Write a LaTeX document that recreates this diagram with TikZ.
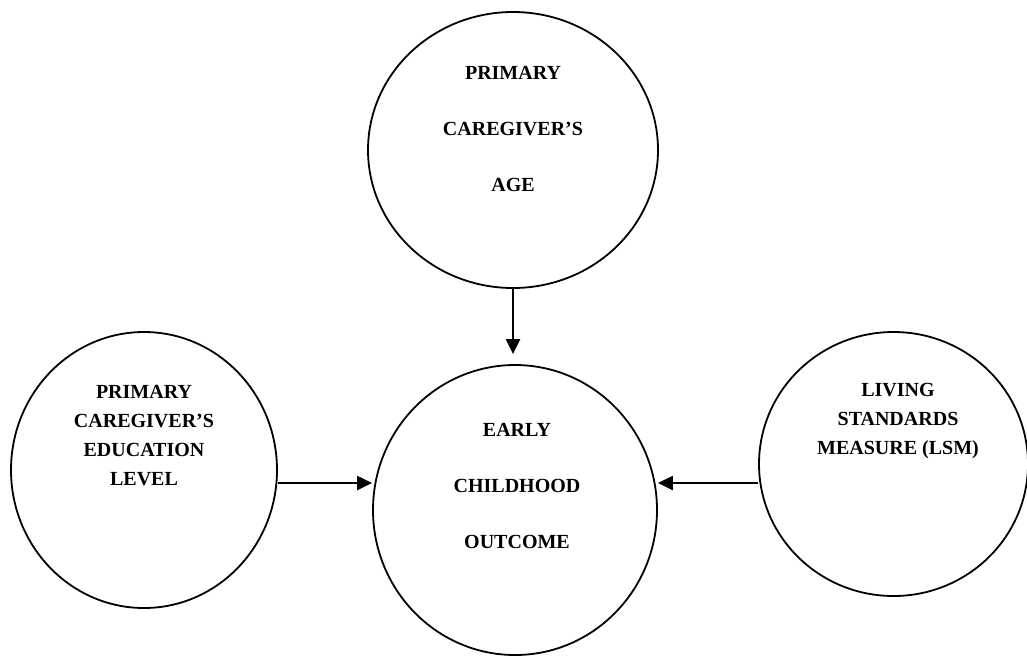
\documentclass[tikz,border=0pt]{standalone}
\usepackage{fontspec}
\setmainfont{Liberation Serif}
\usetikzlibrary{arrows.meta,positioning,calc,shapes.geometric}

\begin{document}
\begin{tikzpicture}[
  x=1pt, y=-1pt, >={Triangle[length=15pt,width=14pt]},
  bubble/.style={draw, ellipse, line width=1.8pt, inner sep=0pt},
  caption/.style={align=center, font=\bfseries\fontsize{20}{29}\selectfont},
  link/.style={->, line width=2.2pt}
]
  \useasboundingbox (0,0) rectangle (1027,657);
  % circles
  \node[bubble, minimum width=290pt, minimum height=276pt] (age) at (513,150) {};
  \node[bubble, minimum width=284pt, minimum height=290pt] (outcome) at (515,510) {};
  \node[bubble, minimum width=266pt, minimum height=276pt] (edu) at (144,470) {};
  \node[bubble, minimum width=269pt, minimum height=264pt] (lsm) at (893.5,464) {};
  % texts
  \node[caption] (agetxt) at (513,129) {PRIMARY\\[27pt]CAREGIVER’S\\[27pt]AGE};
  \node[caption] (outtxt) at (517,486) {EARLY\\[27pt]CHILDHOOD\\[27pt]OUTCOME};
  \node[caption] (edutxt) at (144,436) {PRIMARY\\CAREGIVER’S\\EDUCATION\\LEVEL};
  \node[caption] (lsmtxt) at (898,421) {LIVING\\STANDARDS\\MEASURE (LSM)};
  % arrows
  \coordinate (top) at ([yshift=10pt]outcome.north);
  \coordinate (l) at ([yshift=-13pt]edu.east);
  \coordinate (r) at ([yshift=-19pt]lsm.west);
  \draw[link] (age.south) -- (age.south |- top);
  \draw[link] (l) -- (l -| outcome.west);
  \draw[link] (r) -- (r -| outcome.east);
\end{tikzpicture}
\end{document}
